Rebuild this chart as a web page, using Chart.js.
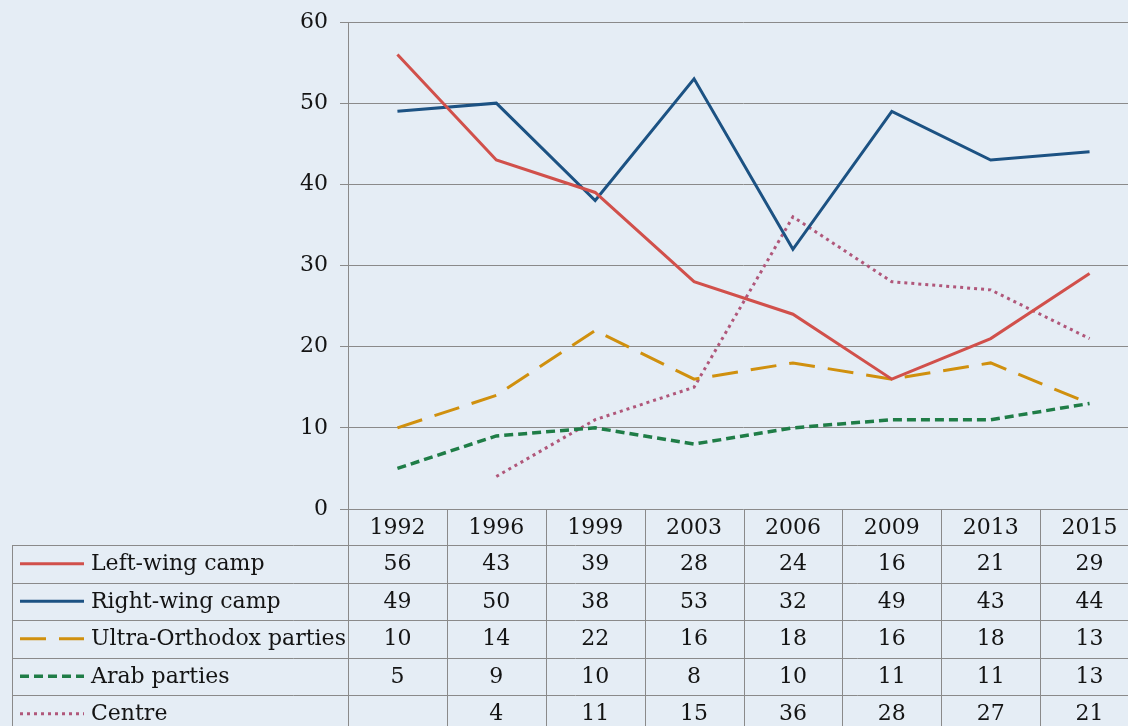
<!DOCTYPE html>
<html>
<head>
<meta charset="utf-8">
<script src="https://cdn.jsdelivr.net/npm/chart.js@4/dist/chart.umd.min.js"></script>
<style>
html,body{margin:0;padding:0;overflow:hidden;background:#e5edf5;}
#wrap{width:1139px;height:726px;position:relative;}
</style>
</head>
<body>
<div id="wrap"><canvas id="c"></canvas></div>
<script>
const years = ['1992','1996','1999','2003','2006','2009','2013','2015'];
const leftWing = [56,43,39,28,24,16,21,29];
const rightWing = [49,50,38,53,32,49,43,44];
const ultraOrthodox = [10,14,22,16,18,16,18,13];
const arabParties = [5,9,10,8,10,11,11,13];
const centre = [null,4,11,15,36,28,27,21];
const seriesNames = ['Left-wing camp','Right-wing camp','Ultra-Orthodox parties','Arab parties','Centre'];

const FONT = '"DejaVu Serif", "Liberation Serif", serif';
const TEXT = '#141414';
const GRID = '#8a8a8a';

const styles = [
  {color:'#d1504b', dash:[], width:3},
  {color:'#1c5283', dash:[], width:3},
  {color:'#d0900e', dash:[26,13], width:3},
  {color:'#1f7d47', dash:[9,5], width:3.5},
  {color:'#b0577a', dash:[3,4], width:3}
];
const seriesData = [leftWing, rightWing, ultraOrthodox, arabParties, centre];

const tablePlugin = {
  id:'table',
  afterDraw(chart){
    const ctx = chart.ctx;
    const xs = chart.scales.x;
    const area = chart.chartArea;
    const headerH = 36, rowH = 37.5;
    const top = area.bottom;
    const rowsTop = top + headerH;
    const H = chart.height;
    const n = years.length;
    const colW = (area.right - area.left) / n;
    ctx.save();
    ctx.strokeStyle = GRID;
    ctx.lineWidth = 1;
    for (let i=0;i<=n;i++){
      const x = Math.round(area.left + i*colW) + 0.5;
      ctx.beginPath();
      ctx.moveTo(x, i===0 ? area.top : top);
      ctx.lineTo(x, H);
      ctx.stroke();
    }
    ctx.beginPath();
    ctx.moveTo(12.5, rowsTop);
    ctx.lineTo(12.5, H);
    ctx.stroke();
    for (let r=0;r<=seriesNames.length;r++){
      const y = Math.round(rowsTop + r*rowH) + 0.5;
      ctx.beginPath();
      ctx.moveTo(12, y);
      ctx.lineTo(chart.width, y);
      ctx.stroke();
    }
    ctx.fillStyle = TEXT;
    ctx.font = '22px ' + FONT;
    ctx.textAlign = 'center';
    ctx.textBaseline = 'middle';
    years.forEach((yr,i)=>{
      ctx.fillText(yr, xs.getPixelForValue(i), top + headerH/2 + 1);
    });
    seriesNames.forEach((name,r)=>{
      const cy = rowsTop + r*rowH + rowH/2;
      const st = styles[r];
      ctx.save();
      ctx.strokeStyle = st.color;
      ctx.lineWidth = st.width;
      ctx.setLineDash(st.dash);
      ctx.beginPath();
      ctx.moveTo(20, cy);
      ctx.lineTo(84, cy);
      ctx.stroke();
      ctx.restore();
      ctx.fillStyle = TEXT;
      ctx.textAlign = 'left';
      ctx.fillText(name, 91, cy + 1);
      ctx.textAlign = 'center';
      seriesData[r].forEach((v,i)=>{
        if (v !== null) ctx.fillText(String(v), xs.getPixelForValue(i), cy + 1);
      });
    });
    ctx.restore();
  }
};

new Chart(document.getElementById('c'), {
  type:'line',
  data:{
    labels: years,
    datasets: seriesNames.map((name,i)=>({
      label: name,
      data: seriesData[i],
      borderColor: styles[i].color,
      borderWidth: styles[i].width,
      borderDash: styles[i].dash,
      pointRadius: 0,
      tension: 0,
      fill: false,
      spanGaps: false
    }))
  },
  options:{
    responsive:true,
    maintainAspectRatio:false,
    animation:false,
    layout:{padding:{top:22,left:0,right:0,bottom:217}},
    plugins:{legend:{display:false},tooltip:{enabled:false}},
    scales:{
      x:{
        display:false,
        offset:true
      },
      y:{
        min:0,max:60,
        ticks:{stepSize:10,font:{family:FONT,size:22},color:TEXT,padding:12},
        grid:{color:GRID,lineWidth:1,tickLength:8},
        border:{display:false},
        afterFit(scale){ scale.width = 348; scale.paddingTop = 0; scale.paddingBottom = 0; }
      }
    }
  },
  plugins:[tablePlugin]
});
</script>
</body>
</html>
